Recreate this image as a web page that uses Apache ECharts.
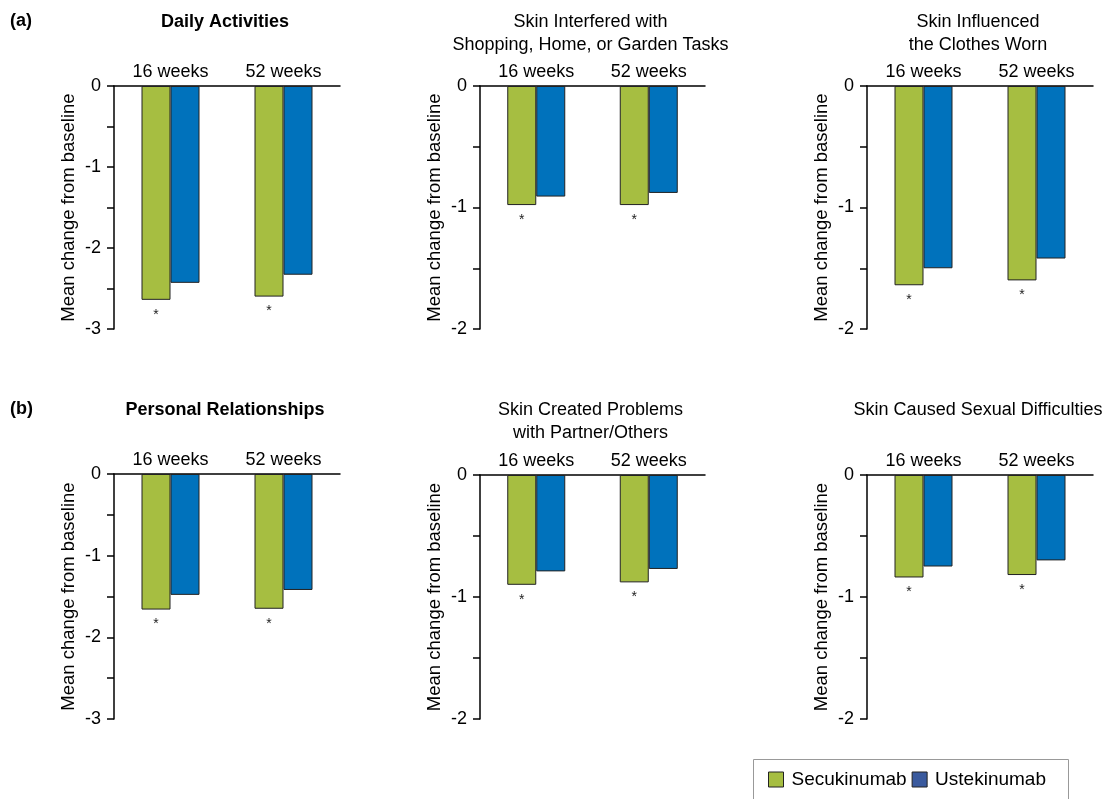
<!DOCTYPE html>
<html>
<head>
<meta charset="utf-8">
<script src="https://cdn.jsdelivr.net/npm/echarts@6/dist/echarts.min.js"></script>
<style>
  html, body { margin: 0; padding: 0; background: #fff; }
  #chart { width: 1107px; height: 799px; }
</style>
</head>
<body>
<div id="chart"></div>
<script>
// data
const categories = ['16 weeks', '52 weeks'];
const panelTitles = [
  'Daily Activities',
  'Skin Interfered with\nShopping, Home, or Garden Tasks',
  'Skin Influenced\nthe Clothes Worn',
  'Personal Relationships',
  'Skin Created Problems\nwith Partner/Others',
  'Skin Caused Sexual Difficulties'
];
const yMins = [-3, -2, -2, -3, -2, -2];
const secukinumab = [
  [-2.64, -2.60],
  [-0.98, -0.98],
  [-1.64, -1.60],
  [-1.66, -1.65],
  [-0.90, -0.88],
  [-0.84, -0.82]
];
const ustekinumab = [
  [-2.43, -2.33],
  [-0.91, -0.88],
  [-1.50, -1.42],
  [-1.48, -1.42],
  [-0.79, -0.77],
  [-0.75, -0.70]
];

// layout of the 6 panels
const gridPos = [
  { left: 114, top: 86, width: 226, height: 243 },
  { left: 480, top: 86, width: 225, height: 243 },
  { left: 867, top: 86, width: 226, height: 243 },
  { left: 114, top: 474, width: 226, height: 245 },
  { left: 480, top: 475, width: 225, height: 244 },
  { left: 867, top: 475, width: 226, height: 244 }
];
const boldTitle = [true, false, false, true, false, false];

const FONT = "'Liberation Sans', Arial, Helvetica, sans-serif";
const GREEN = '#A6BE41';
const BLUE = '#0072BC';

const chart = echarts.init(document.getElementById('chart'));

const grids = [], xAxes = [], yAxes = [], series = [], graphics = [];

gridPos.forEach((g, i) => {
  grids.push({ left: g.left, top: g.top, width: g.width, height: g.height, containLabel: false });
  xAxes.push({
    type: 'category',
    gridIndex: i,
    position: 'top',
    data: categories,
    axisLine: { lineStyle: { color: '#000', width: 1.5 } },
    axisTick: { length: 8, lineStyle: { color: '#000', width: 1.5 } },
    axisLabel: { color: '#000', fontSize: 18, fontFamily: FONT, margin: 5 }
  });
  yAxes.push({
    type: 'value',
    gridIndex: i,
    min: yMins[i],
    max: 0,
    interval: 0.5,
    name: 'Mean change from baseline',
    nameLocation: 'middle',
    nameRotate: 90,
    nameGap: 36,
    nameTextStyle: { color: '#000', fontSize: 18.5, fontFamily: FONT },
    splitLine: { show: false },
    axisLine: { show: true, lineStyle: { color: '#000', width: 1.5 } },
    axisTick: { show: true, length: 7, lineStyle: { color: '#000', width: 1.5 } },
    axisLabel: {
      color: '#000', fontSize: 18, fontFamily: FONT, margin: 13,
      formatter: function (v) {
        return Number.isInteger(v) ? String(v) : '';
      }
    }
  });
  series.push({
    name: 'Secukinumab',
    type: 'bar',
    xAxisIndex: i,
    yAxisIndex: i,
    barWidth: 29,
    barGap: '0%',
    data: secukinumab[i],
    itemStyle: { color: GREEN, borderColor: '#222', borderWidth: 1 },
    label: {
      show: true, position: 'bottom', distance: 8, formatter: '*',
      color: '#222', fontSize: 14, fontFamily: FONT
    }
  });
  series.push({
    name: 'Ustekinumab',
    type: 'bar',
    xAxisIndex: i,
    yAxisIndex: i,
    barWidth: 29,
    barGap: '0%',
    data: ustekinumab[i],
    itemStyle: { color: BLUE, borderColor: '#222', borderWidth: 1 }
  });

  // panel title
  const cx = g.left + g.width / 2 - 2;
  const baseY = i < 3 ? 22 : 410;
  graphics.push({
    type: 'text',
    x: cx,
    y: baseY - 11,
    style: {
      text: panelTitles[i],
      align: 'center',
      verticalAlign: 'top',
      fontSize: 18,
      lineHeight: 23,
      fontWeight: boldTitle[i] ? 'bold' : 'normal',
      fontFamily: FONT,
      fill: '#000'
    }
  });
});

// panel letters
graphics.push({
  type: 'text', x: 10, y: 12,
  style: { text: '(a)', fontSize: 18, fontWeight: 'bold', fontFamily: FONT, fill: '#000' }
});
graphics.push({
  type: 'text', x: 10, y: 400,
  style: { text: '(b)', fontSize: 18, fontWeight: 'bold', fontFamily: FONT, fill: '#000' }
});
// legend frame
graphics.push({
  type: 'rect',
  shape: { x: 753.5, y: 759.5, width: 315, height: 60 },
  style: { fill: 'none', stroke: '#999', lineWidth: 1 },
  z: 0
});

chart.setOption({
  animation: false,
  grid: grids,
  xAxis: xAxes,
  yAxis: yAxes,
  series: series,
  graphic: graphics,
  legend: {
    left: 763,
    top: 765,
    itemWidth: 15,
    itemHeight: 15,
    itemGap: 5,
    icon: 'rect',
    textStyle: { color: '#000', fontSize: 19, fontFamily: FONT, padding: [0, 0, 0, 3] },
    data: [
      { name: 'Secukinumab', itemStyle: { color: GREEN, borderColor: '#222', borderWidth: 1 } },
      { name: 'Ustekinumab', itemStyle: { color: '#3A5A9E', borderColor: '#222', borderWidth: 1 } }
    ]
  }
});
</script>
</body>
</html>
